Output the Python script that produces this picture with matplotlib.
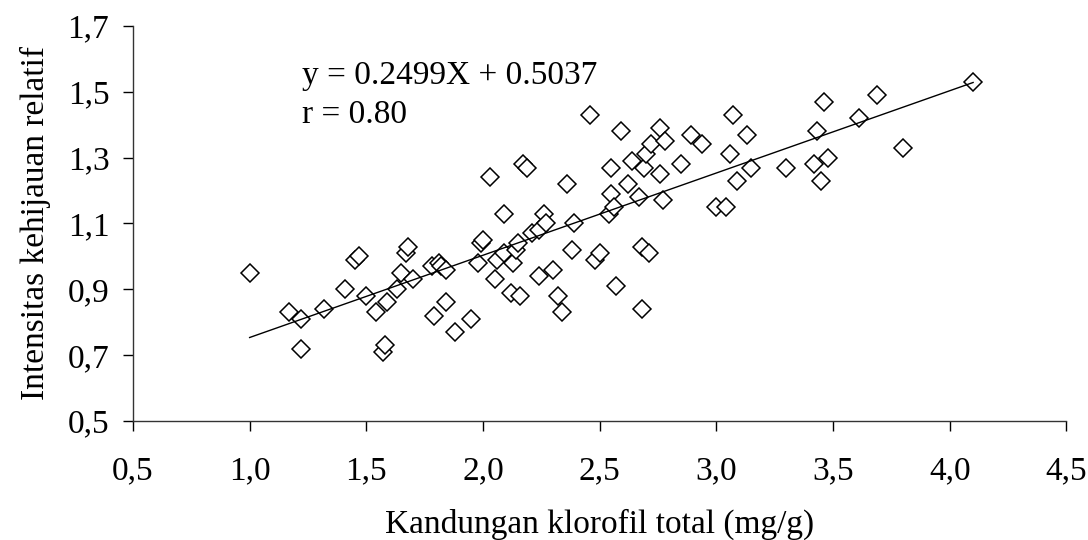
import matplotlib.pyplot as plt
import numpy as np

plt.rcParams['font.family'] = ['Liberation Serif', 'DejaVu Serif']

# klorofil total (mg/g) vs intensitas kehijauan relatif
klorofil = np.array([
    1.00, 1.17, 1.22, 1.22, 1.32, 1.41, 1.45, 1.47, 1.50, 1.54,
    1.57, 1.58, 1.59, 1.63, 1.65, 1.67, 1.68, 1.70, 1.78, 1.79,
    1.81, 1.82, 1.84, 1.84, 1.88, 1.95, 1.98, 1.99, 2.00, 2.03,
    2.05, 2.06, 2.09, 2.09, 2.12, 2.13, 2.14, 2.15, 2.16, 2.17,
    2.19, 2.21, 2.24, 2.24, 2.26, 2.27, 2.30, 2.32, 2.34, 2.36,
    2.38, 2.39, 2.46, 2.48, 2.50, 2.54, 2.55, 2.55, 2.56, 2.57,
    2.59, 2.62, 2.64, 2.67, 2.68, 2.68, 2.69, 2.70, 2.71, 2.72,
    2.76, 2.76, 2.77, 2.78, 2.85, 2.89, 2.94, 3.00, 3.04, 3.06,
    3.07, 3.09, 3.13, 3.15, 3.30, 3.42, 3.43, 3.45, 3.46, 3.48,
    3.61, 3.69, 3.80, 4.10])
intensitas = np.array([
    0.95, 0.83, 0.81, 0.72, 0.84, 0.90, 0.99, 1.00, 0.88, 0.83,
    0.71, 0.73, 0.86, 0.90, 0.95, 1.01, 1.03, 0.93, 0.97, 0.82,
    0.98, 0.97, 0.96, 0.86, 0.77, 0.81, 0.98, 1.04, 1.05, 1.24,
    0.93, 0.99, 1.13, 1.01, 0.89, 0.98, 1.02, 1.04, 0.88, 1.28,
    1.27, 1.07, 0.94, 1.08, 1.13, 1.10, 0.96, 0.88, 0.83, 1.22,
    1.02, 1.10, 1.43, 0.99, 1.01, 1.13, 1.19, 1.27, 1.15, 0.91,
    1.38, 1.22, 1.29, 1.18, 1.03, 0.84, 1.27, 1.31, 1.01, 1.34,
    1.39, 1.25, 1.17, 1.35, 1.28, 1.37, 1.34, 1.15, 1.15, 1.31,
    1.43, 1.23, 1.37, 1.27, 1.27, 1.28, 1.38, 1.23, 1.47, 1.30,
    1.42, 1.49, 1.33, 1.53])

slope = 0.2499
intercept = 0.5037
r_text = "r = 0.80"

xticks = [0.5, 1.0, 1.5, 2.0, 2.5, 3.0, 3.5, 4.0, 4.5]
yticks = [0.5, 0.7, 0.9, 1.1, 1.3, 1.5, 1.7]

fig = plt.figure(figsize=(10.88, 5.40), dpi=100)
ax = fig.add_axes([0.1222, 0.2204, 0.858, 0.7315])

ax.plot(klorofil, intensitas, linestyle='none', marker='D', ms=9.5,
        mfc='white', mec='black', mew=1.1)

xl = np.array([klorofil.min(), klorofil.max()])
ax.plot(xl, slope * xl + intercept, color='black', lw=1)

ax.text(1.225, 1.55, "y = %.4fX + %.4f" % (slope, intercept), fontsize=24, va='center')
ax.text(1.225, 1.43, r_text, fontsize=24, va='center')

ax.set_xlim(0.5, 4.5)
ax.set_ylim(0.5, 1.7)
ax.set_xticks(xticks)
ax.set_yticks(yticks)
ax.set_xticklabels([("%.1f" % v).replace('.', ',') for v in xticks])
ax.set_yticklabels([("%.1f" % v).replace('.', ',') for v in yticks])
ax.tick_params(axis='x', direction='out', length=7, width=1, labelsize=24, pad=18)
ax.tick_params(axis='y', direction='out', length=7, width=1, labelsize=24, pad=10)

for s in ['top', 'right']:
    ax.spines[s].set_visible(False)
for s in ['left', 'bottom']:
    ax.spines[s].set_color('#333333')
    ax.spines[s].set_linewidth(1)

ax.set_xlabel("Kandungan klorofil total (mg/g)", fontsize=24, labelpad=16)
ax.set_ylabel("Intensitas kehijauan relatif", fontsize=24, labelpad=12)

fig.savefig("out.png", dpi=100, facecolor='white')
